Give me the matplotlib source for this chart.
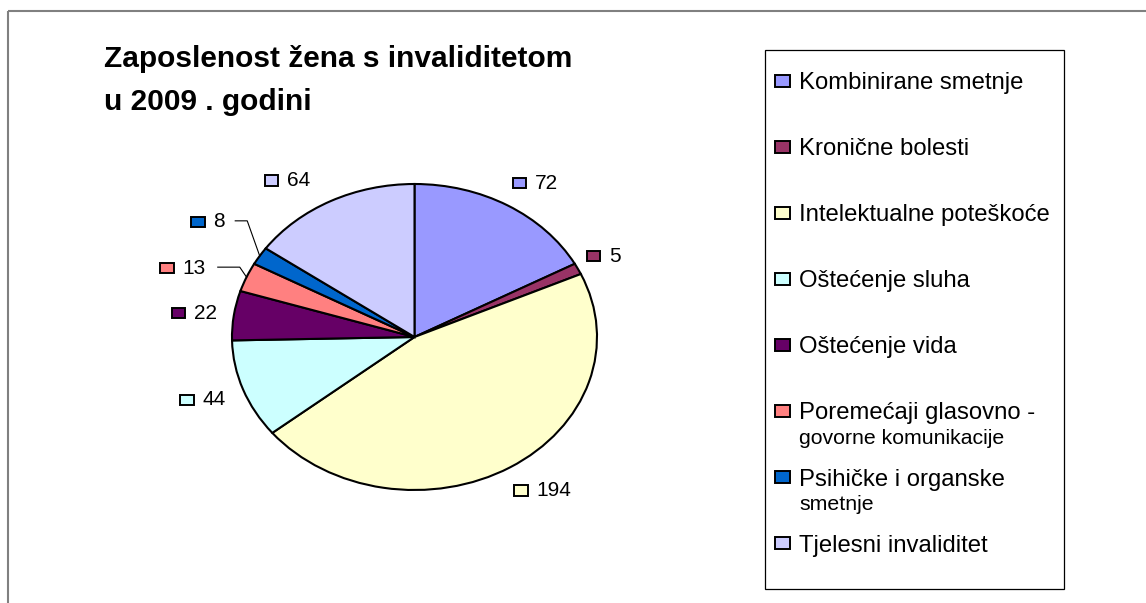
import matplotlib
matplotlib.use("Agg")
import matplotlib.pyplot as plt
import numpy as np
from matplotlib.patches import Rectangle
from matplotlib.offsetbox import DrawingArea, TextArea, HPacker, AnnotationBbox

# ---------------- data ----------------
categories = [
    "Kombinirane smetnje",
    "Kronične bolesti",
    "Intelektualne poteškoće",
    "Oštećenje sluha",
    "Oštećenje vida",
    "Poremećaji glasovno -\ngovorne komunikacije",
    "Psihičke i organske\nsmetnje",
    "Tjelesni invaliditet",
]
values = [72, 5, 194, 44, 22, 13, 8, 64]
colors = ["#9999FF", "#993366", "#FFFFCC", "#CCFFFF",
          "#660066", "#FF8080", "#0066CC", "#CCCCFF"]
title = "Zaposlenost žena s invaliditetom\nu 2009 . godini"

# ---------------- layout / style ----------------
W, H = 1146, 603
plt.rcParams['font.family'] = ['Liberation Sans', 'DejaVu Sans']
fig = plt.figure(figsize=(W / 100, H / 100), dpi=100)

# background overlay axes in pixel units (y downward)
bg = fig.add_axes([0, 0, 1, 1])
bg.set_xlim(0, W)
bg.set_ylim(H, 0)
bg.axis('off')

# outer frame (gray lines top and left)
bg.plot([7.5, W], [10.5, 10.5], color='#808080', lw=1.5, solid_capstyle='butt')
bg.plot([7.5, 7.5], [10.5, H], color='#808080', lw=1.5, solid_capstyle='butt')

# title
bg.text(104, 45, title, fontsize=21.5, fontweight='bold', va='top', ha='left',
        linespacing=1.7, color='black')

# pie axes (elliptical pie)
cx, cy, rx, ry = 414.5, 337.0, 182.5, 153.0
ax = fig.add_axes([(cx - rx) / W, (H - (cy + ry)) / H, 2 * rx / W, 2 * ry / H])
wedges, _ = ax.pie(values, colors=colors, startangle=90, counterclock=False,
                   radius=1.0,
                   wedgeprops=dict(edgecolor='black', linewidth=1.5))
ax.set_aspect('auto')
ax.set_xlim(-1, 1)
ax.set_ylim(-1, 1)
ax.axis('off')

def px2data(px, py):
    return (px - cx) / rx, (cy - py) / ry

# label style: (horizontal alignment of box, dx px, dy px, leader)
# leader = (gap from label to line start, horizontal length) in px or None
label_style = [
    (0, -5, -9, None),
    (0, -8, -6, None),
    (0, -6, 10, None),
    (1, 0, 5, None),
    (1, 1, 0, None),
    (1, -24, -3, (12, 22)),
    (1, -19, -26, (10, 12)),
    (1, -12, -7, None),
]

for w, v, (bx, dx, dy, leader) in zip(wedges, values, label_style):
    mid = np.deg2rad((w.theta1 + w.theta2) / 2.0)
    ax_x, ax_y = 1.1 * np.cos(mid), 1.1 * np.sin(mid)
    da = DrawingArea(10.8, 8.6, 0, 0)
    da.add_artist(Rectangle((0.6, 0.6), 9.6, 7.4, facecolor=w.get_facecolor(),
                            edgecolor='black', linewidth=1.4))
    ta = TextArea(str(v), textprops=dict(fontsize=15, color='black'))
    box = HPacker(children=[da, ta], sep=5.8, pad=0, align='center')
    ab = AnnotationBbox(box, (ax_x, ax_y), xycoords='data',
                        xybox=(dx * 0.72, -dy * 0.72), boxcoords='offset points',
                        box_alignment=(bx, 0.5), frameon=False, pad=0,
                        annotation_clip=False)
    ax.add_artist(ab)
    if leader is not None:
        apx = cx + ax_x * rx + dx
        apy = cy - ax_y * ry + dy - 1
        gap, hl = leader
        p0 = px2data(apx + gap, apy)
        p1 = px2data(apx + gap + hl, apy)
        ex, ey = np.cos(mid), np.sin(mid)
        ax.plot([p0[0], p1[0], ex], [p0[1], p1[1], ey], color='black', lw=0.8,
                clip_on=False)

# legend (drawn in pixel coordinates)
bg.add_patch(Rectangle((765, 50), 299, 539, facecolor='white', edgecolor='black',
                       linewidth=0.9, zorder=1))
step = 66.1
for i, (w, lab) in enumerate(zip(wedges, categories)):
    base = 89 + step * i
    bg.add_patch(Rectangle((775, base - 8.5 - 6), 15, 12, facecolor=w.get_facecolor(),
                           edgecolor='black', linewidth=1.4, zorder=2))
    parts = lab.split("\n")
    bg.text(799, base, parts[0], fontsize=17.2, va='baseline', ha='left', zorder=3)
    if len(parts) > 1:
        bg.text(799, base + 24.5, parts[1], fontsize=15.3, va='baseline', ha='left',
                zorder=3)

fig.savefig("out.png", dpi=100)
